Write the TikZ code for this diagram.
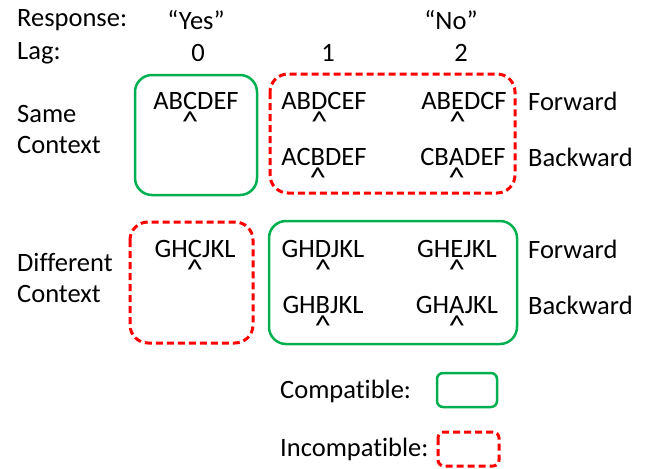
\documentclass[tikz,border=0pt]{standalone}
\usepackage{fontspec}
\setmainfont[Ligatures=NoCommon]{Carlito}
\definecolor{okgreen}{RGB}{0,176,80}
\definecolor{badred}{RGB}{255,0,0}
% letter with a caret mark under it
\newcommand\caretbelow[1]{\setbox0\hbox{#1}\rlap{\hbox to\wd0{\hss\smash{\raisebox{-0.82em}{\scalebox{1.25}[1.1]{\textasciicircum}}}\hss}}#1}
\tikzset{
  compat/.style={draw=okgreen, line width=2.5pt, rounded corners=17pt},
  incompat/.style={draw=badred, line width=3pt, dash pattern=on 7pt off 4pt, rounded corners=18pt},
  lbl/.style={inner sep=0pt, anchor=west},
  seq/.style={inner sep=0pt},
}
\begin{document}
\begin{tikzpicture}[x=1pt,y=-1pt,font=\fontsize{26.5}{31}\selectfont]
\useasboundingbox (0,0) rectangle (646,469);
% headers
\node[lbl] (resp) at (17,20) {Response:};
\node[seq] (yes) at (196,20) {“Yes”};
\node[seq] (no) at (451,20) {“No”};
\node[lbl] (lag) at (17,53) {Lag:};
\node[seq] (l0) at (198,53) {0};
\node[seq] (l1) at (328,53) {1};
\node[seq] (l2) at (461,53) {2};
% row labels
\node[lbl] (same) at (17,114) {Same};
\node[lbl] (samectx) at (17,145) {Context};
\node[lbl] (diff) at (17,262) {Different};
\node[lbl] (diffctx) at (17,294) {Context};
\node[lbl] (fw1) at (528,101) {Forward};
\node[lbl] (bw1) at (528,157) {Backward};
\node[lbl] (fw2) at (528,249) {Forward};
\node[lbl] (bw2) at (528,305) {Backward};
% groups
\draw[compat] (135,75) rectangle (257,195);
\draw[incompat] (270,74) rectangle (515,193);
\draw[incompat] (130,222) rectangle (253,343);
\draw[compat] (269,221) rectangle (517,344);
% sequences
\node[seq] (s0) at (196,101) {AB\caretbelow{C}DEF};
\node[seq] (s1) at (324,101) {AB\caretbelow{D}CEF};
\node[seq] (s2) at (464,101) {AB\caretbelow{E}DCF};
\node[seq] (s3) at (324,157) {AC\caretbelow{B}DEF};
\node[seq] (s4) at (463,157) {CB\caretbelow{A}DEF};
\node[seq] (d0) at (195,249) {GH\caretbelow{C}JKL};
\node[seq] (d1) at (323,249) {GH\caretbelow{D}JKL};
\node[seq] (d2) at (457,249) {GH\caretbelow{E}JKL};
\node[seq] (d3) at (323,305) {GH\caretbelow{B}JKL};
\node[seq] (d4) at (457,305) {GH\caretbelow{A}JKL};
% legend
\node[lbl] (lc) at (280,391) {Compatible:};
\node[lbl] (li) at (280,449) {Incompatible:};
\draw[compat, rounded corners=6pt] (437,373) rectangle (497,407);
\draw[incompat, rounded corners=6pt] (438,432) rectangle (499,466);
\end{tikzpicture}
\end{document}
